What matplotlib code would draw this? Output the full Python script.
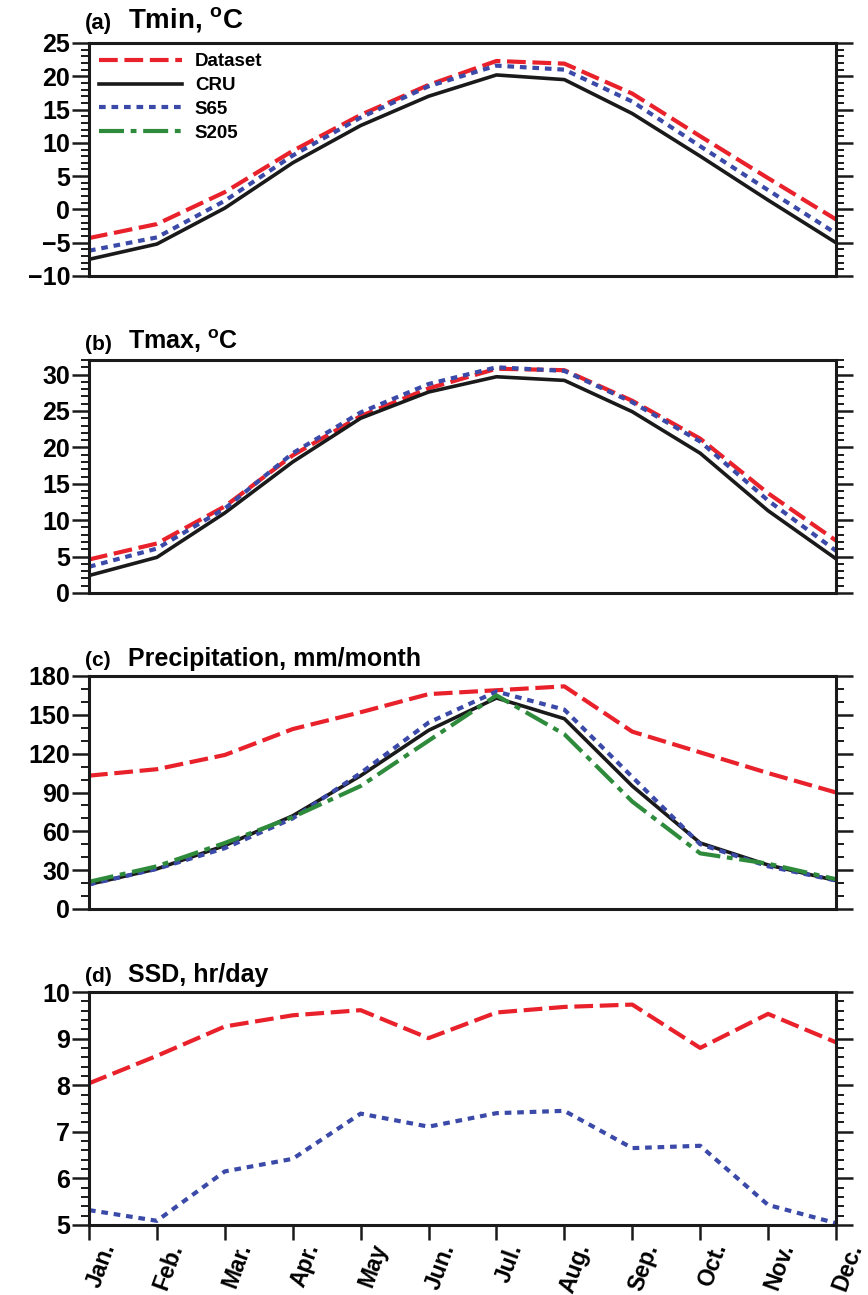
import numpy as np
import matplotlib
matplotlib.use("Agg")
import matplotlib.pyplot as plt
import matplotlib.transforms as mtransforms
from matplotlib.ticker import MultipleLocator

plt.rcParams['font.family'] = ['Liberation Sans', 'DejaVu Sans']
plt.rcParams['font.weight'] = 'bold'
plt.rcParams['mathtext.fontset'] = 'custom'
plt.rcParams['mathtext.rm'] = 'Liberation Sans:bold'
plt.rcParams['mathtext.bf'] = 'Liberation Sans:bold'

months = ["Jan.", "Feb.", "Mar.", "Apr.", "May", "Jun.",
          "Jul.", "Aug.", "Sep.", "Oct.", "Nov.", "Dec."]

# (a) Tmin, degC
tmin_dataset = [-4.3, -2.2, 2.6, 8.8, 14.2, 18.7, 22.3, 21.9, 17.4, 11.0, 4.7, -1.5]
tmin_cru     = [-7.5, -5.2, 0.2, 7.0, 12.6, 17.0, 20.2, 19.5, 14.4, 8.0, 1.4, -5.0]
tmin_s65     = [-6.2, -4.2, 1.3, 8.1, 13.8, 18.5, 21.6, 21.0, 16.2, 9.5, 2.9, -3.6]

# (b) Tmax, degC
tmax_dataset = [4.6, 6.8, 11.9, 18.9, 24.3, 28.1, 30.8, 30.6, 26.4, 21.2, 13.7, 7.2]
tmax_cru     = [2.4, 4.9, 11.0, 18.0, 24.0, 27.6, 29.7, 29.2, 24.9, 19.2, 11.3, 4.7]
tmax_s65     = [3.6, 6.1, 11.6, 19.2, 24.8, 28.7, 31.0, 30.5, 26.2, 20.8, 12.7, 5.8]

# (c) Precipitation, mm/month
pre_dataset = [103, 108, 119, 139, 152, 166, 169, 172, 137, 121, 105, 90]
pre_cru     = [19, 31, 49, 72, 103, 138, 163, 147, 95, 51, 34, 22]
pre_s65     = [19, 31, 47, 70, 105, 144, 168, 154, 102, 50, 33, 22]
pre_s205    = [21, 33, 51, 71, 95, 130, 165, 135, 83, 43, 35, 23]

# (d) SSD, hr/day
ssd_dataset = [8.04, 8.63, 9.26, 9.50, 9.61, 9.01, 9.56, 9.68, 9.73, 8.80, 9.53, 8.92]
ssd_s65     = [5.32, 5.09, 6.15, 6.42, 7.39, 7.11, 7.40, 7.45, 6.65, 6.70, 5.43, 5.04]

x = np.arange(len(months))

RED = "#e8212b"
BLACK = "#1a1a1a"
BLUE = "#3b4aa8"
GREEN = "#2e8b3c"

sty_dataset = dict(color=RED, lw=3.0, dashes=(4.5, 1.6))
sty_cru = dict(color=BLACK, lw=2.6, linestyle='-')
sty_s65 = dict(color=BLUE, lw=3.0, dashes=(1.6, 1.4))
sty_s205 = dict(color=GREEN, lw=3.0, dashes=(6.0, 1.6, 1.4, 1.6))

fig = plt.figure(figsize=(8.68, 12.95), dpi=100)

W, H = 868.0, 1295.0
left = 89 / W
width = (836 - 89) / W
tops = [43, 360, 676, 992]
ph = 233

axes = []
for t in tops:
    ax = fig.add_axes([left, 1 - (t + ph) / H, width, ph / H])
    axes.append(ax)

def style_axis(ax, ylim, major, minor, bottom_ticks=False, fs=18):
    ax.set_xlim(0, 11)
    ax.set_ylim(*ylim)
    ax.yaxis.set_major_locator(MultipleLocator(major))
    ax.yaxis.set_minor_locator(MultipleLocator(minor))
    for s in ax.spines.values():
        s.set_linewidth(2.2)
        s.set_color(BLACK)
    ax.tick_params(axis='y', which='major', direction='out', length=12,
                   width=1.8, left=True, right=True, labelsize=fs, pad=1.5,
                   color=BLACK)
    ax.tick_params(axis='y', which='minor', direction='out', length=5.5,
                   width=1.4, left=True, right=True, color=BLACK)
    ax.set_xticks(x)
    if bottom_ticks:
        ax.tick_params(axis='x', which='major', direction='out', length=11,
                       width=1.8, bottom=True, top=False, color=BLACK, pad=0)
        ax.set_xticklabels(months, rotation=70, ha='right', va='top',
                           rotation_mode='anchor', fontsize=16.5,
                           fontweight='bold')
        shift = mtransforms.ScaledTranslation(9 / 100, 0, fig.dpi_scale_trans)
        for lab in ax.get_xticklabels():
            lab.set_transform(lab.get_transform() + shift)
    else:
        ax.tick_params(axis='x', bottom=False, top=False, labelbottom=False)
    for lab in ax.get_yticklabels():
        lab.set_fontweight('bold')

def title(ax, tag, text, fs_tag=15, fs_text=18, dy=6):
    ax.annotate(tag, xy=(0, 1), xycoords='axes fraction',
                xytext=(-4, dy), textcoords='offset pixels',
                fontsize=fs_tag, fontweight='bold', ha='left', va='bottom')
    ax.annotate(text, xy=(0, 1), xycoords='axes fraction',
                xytext=(39, dy - 1), textcoords='offset pixels',
                fontsize=fs_text, fontweight='bold', ha='left', va='bottom')

deg = r"$^{\mathrm{o}}$C"

# (a)
ax = axes[0]
ax.plot(x, tmin_dataset, label="Dataset", **sty_dataset)
ax.plot(x, tmin_cru, label="CRU", **sty_cru)
ax.plot(x, tmin_s65, label="S65", **sty_s65)
ax.plot([], [], label="S205", **sty_s205)
style_axis(ax, (-10, 25), 5, 1)
title(ax, "(a)", "Tmin, " + deg, fs_tag=16, fs_text=20, dy=9)
leg = ax.legend(loc='upper left', frameon=False, fontsize=13.5,
                handlelength=4.4, handletextpad=0.7, labelspacing=0.35,
                borderaxespad=0.15, bbox_to_anchor=(0.0, 1.0))
for t in leg.get_texts():
    t.set_fontweight('bold')

# (b)
ax = axes[1]
ax.plot(x, tmax_dataset, **sty_dataset)
ax.plot(x, tmax_cru, **sty_cru)
ax.plot(x, tmax_s65, **sty_s65)
style_axis(ax, (0, 32), 5, 1)
title(ax, "(b)", "Tmax, " + deg)

# (c)
ax = axes[2]
ax.plot(x, pre_dataset, **sty_dataset)
ax.plot(x, pre_cru, **sty_cru)
ax.plot(x, pre_s65, **sty_s65)
ax.plot(x, pre_s205, **sty_s205)
style_axis(ax, (0, 180), 30, 10)
title(ax, "(c)", "Precipitation, mm/month")

# (d)
ax = axes[3]
ax.plot(x, ssd_dataset, **sty_dataset)
ax.plot(x, ssd_s65, **sty_s65)
style_axis(ax, (5, 10), 1, 0.2, bottom_ticks=True)
title(ax, "(d)", "SSD, hr/day")

fig.savefig("out.png", dpi=100)
